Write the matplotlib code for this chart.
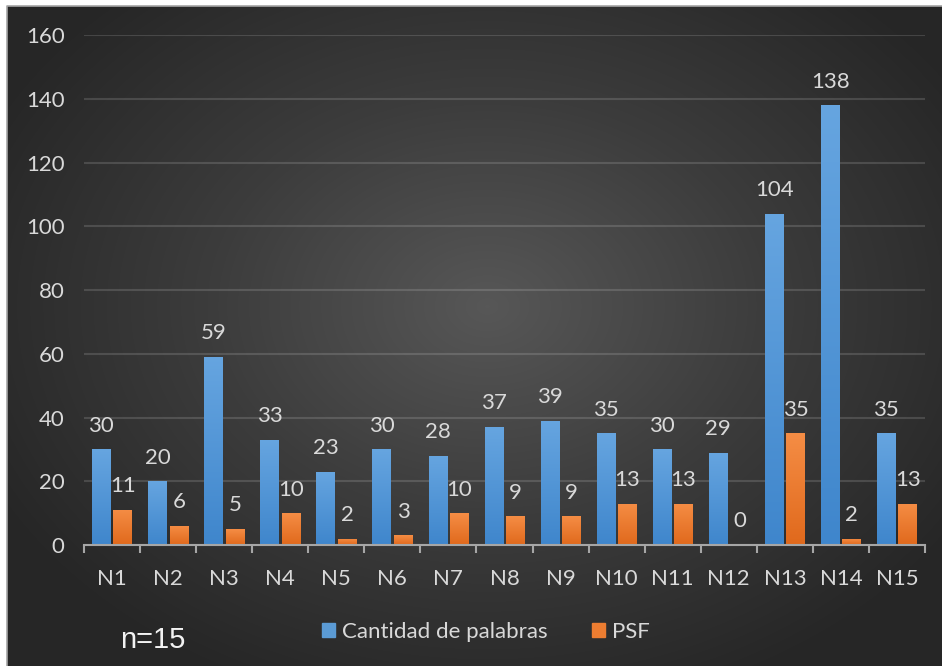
import numpy as np
import matplotlib
matplotlib.use('Agg')
import matplotlib.pyplot as plt
from matplotlib.colors import LinearSegmentedColormap
from matplotlib.patches import Rectangle
from matplotlib.lines import Line2D

# Word counts and PSF per participant
categories = ['N1', 'N2', 'N3', 'N4', 'N5', 'N6', 'N7', 'N8', 'N9', 'N10',
              'N11', 'N12', 'N13', 'N14', 'N15']
palabras = [30, 20, 59, 33, 23, 30, 28, 37, 39, 35, 30, 29, 104, 138, 35]
psf = [11, 6, 5, 10, 2, 3, 10, 9, 9, 13, 13, 0, 35, 2, 13]
y_ticks = [0, 20, 40, 60, 80, 100, 120, 140, 160]

txt_col = '#d9d9d9'
font = ['Lato', 'DejaVu Sans']
fs = 16

fig = plt.figure(figsize=(9.42, 6.66), dpi=100, facecolor='white')

# dark radial background
bg = fig.add_axes([7 / 942, 0, 1 - 7 / 942, 1 - 6 / 666], zorder=-10)
h, w = 660, 935
yy, xx = np.mgrid[0:h, 0:w]
r = np.sqrt(((xx - 480) / 560.0) ** 2 + ((yy - 300) / 420.0) ** 2)
r = np.clip(r, 0, 1)
bg_cmap = LinearSegmentedColormap.from_list('bg', ['#575757', '#3c3c3c', '#262626'])
bg.imshow(r, cmap=bg_cmap, aspect='auto', extent=[0, 1, 0, 1], origin='upper')
bg.set_xlim(0, 1)
bg.set_ylim(0, 1)
bg.axis('off')
fig.add_artist(Line2D([7 / 942, 7 / 942, 1], [0, 1 - 6 / 666, 1 - 6 / 666],
                      transform=fig.transFigure, color='#a6a6a6', lw=1.2))

ax = fig.add_axes([84 / 942, 1 - 545 / 666, (925 - 84) / 942, (545 - 35) / 666])
ax.patch.set_alpha(0)

x = np.arange(len(categories))
bw = 0.33
off = 0.19


def grad_bars(xpos, vals, top, bottom):
    cmap = LinearSegmentedColormap.from_list('g', [bottom, top])
    grad = np.linspace(0, 1, 256).reshape(-1, 1)
    bars = ax.bar(xpos, vals, width=bw, color=top, zorder=3)
    for b in bars:
        b.set_facecolor('none')
        b.set_edgecolor('none')
        if b.get_height() <= 0:
            continue
        x0, y0 = b.get_x(), b.get_y()
        im = ax.imshow(grad, cmap=cmap, origin='lower', aspect='auto',
                       extent=[x0, x0 + b.get_width(), y0, y0 + b.get_height()],
                       zorder=3)
        im.set_clip_path(b)
    return bars


grad_bars(x - off, palabras, '#66a5e0', '#3f86cc')
grad_bars(x + off, psf, '#f58d45', '#e0691c')

for xi, v in zip(x - off, palabras):
    ax.annotate(str(v), (xi, v), xytext=(0, 17), textcoords='offset points',
                ha='center', va='center', color=txt_col, fontsize=fs, family=font)
for xi, v in zip(x + off, psf):
    ax.annotate(str(v), (xi, v), xytext=(0, 17), textcoords='offset points',
                ha='center', va='center', color=txt_col, fontsize=fs, family=font)

ax.set_xlim(-0.5, len(categories) - 0.5)
ax.set_ylim(0, 160)
ax.set_yticks(y_ticks)
ax.set_yticklabels([str(t) for t in y_ticks])
ax.set_xticks(x)
ax.set_xticklabels(categories)
ax.set_xticks(np.arange(-0.5, len(categories)), minor=True)

for lab in ax.get_xticklabels() + ax.get_yticklabels():
    lab.set_family(font)
    lab.set_fontsize(fs)
    lab.set_color(txt_col)

ax.tick_params(axis='y', length=0, pad=14)
ax.tick_params(axis='x', which='major', length=0, pad=17)
ax.tick_params(axis='x', which='minor', length=6, width=1.5, color='#a6a6a6',
               direction='out')

ax.grid(axis='y', color='white', alpha=0.14, lw=1.5, zorder=0)
for s in ['top', 'right', 'left']:
    ax.spines[s].set_visible(False)
ax.spines['bottom'].set_color('#a6a6a6')
ax.spines['bottom'].set_linewidth(1.5)
ax.spines['bottom'].set_zorder(4)

handles = [Rectangle((0, 0), 1, 1, color='#5b9bd5'),
           Rectangle((0, 0), 1, 1, color='#ed7d31')]
fig.legend(handles, ['Cantidad de palabras', 'PSF'], loc='center',
           bbox_to_anchor=(486 / 942, 1 - 632 / 666), ncol=2, frameon=False,
           prop={'family': font, 'size': fs}, labelcolor=txt_col,
           handlelength=0.6, handleheight=0.6, handletextpad=0.3, columnspacing=2.0)

fig.text(153 / 942, 1 - 640 / 666, 'n=15', ha='center', va='center',
         color='#f2f2f2', fontsize=21, family=['Liberation Sans', 'DejaVu Sans'])

fig.savefig('out.png', dpi=100, facecolor=fig.get_facecolor())
